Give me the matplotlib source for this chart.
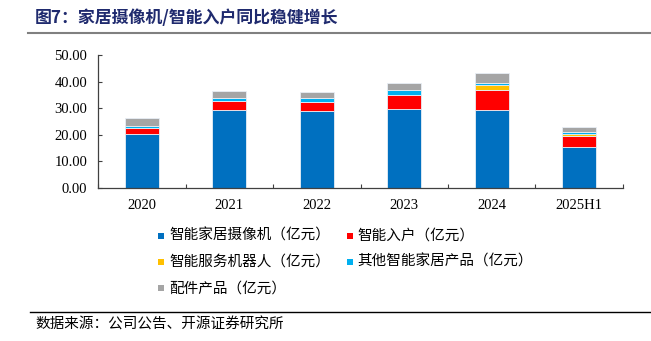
import matplotlib
matplotlib.use("Agg")
import matplotlib.pyplot as plt
from matplotlib.patches import Rectangle
from matplotlib.lines import Line2D
import numpy as np

plt.rcParams['font.family'] = ['Noto Sans CJK SC', 'DejaVu Sans']

categories = ["2020", "2021", "2022", "2023", "2024", "2025H1"]
camera = [20.1, 29.2, 28.8, 29.7, 29.3, 15.2]
entry = [2.6, 3.4, 3.4, 5.2, 7.5, 4.4]
robot = [0.0, 0.0, 0.0, 0.0, 1.9, 0.75]
other_home = [0.6, 1.1, 1.5, 1.9, 0.9, 0.75]
accessories = [3.0, 2.9, 2.3, 2.75, 3.8, 2.0]

series_names = ["智能家居摄像机（亿元）", "智能入户（亿元）", "智能服务机器人（亿元）",
                "其他智能家居产品（亿元）", "配件产品（亿元）"]
series_values = [camera, entry, robot, other_home, accessories]
series_colors = ["#0070C0", "#FF0000", "#FFC000", "#00B0F0", "#A5A5A5"]
yticks = [0, 10, 20, 30, 40, 50]

W, H = 651, 341
fig = plt.figure(figsize=(W / 100, H / 100), dpi=100)

def fx(px):
    return px / W

def fy(py):
    return 1 - py / H

ax = fig.add_axes([fx(98.3), fy(187.7), fx(622.7) - fx(98.3), fy(55.3) - fy(187.7)])
x = np.arange(len(categories))
bottom = np.zeros(len(categories))
for vals, col in zip(series_values, series_colors):
    v = np.array(vals)
    ax.bar(x, v, width=0.39, bottom=bottom, color=col, edgecolor='#e8eef5', linewidth=0.6)
    bottom += v

ax.set_xlim(-0.5, len(categories) - 0.5)
ax.set_ylim(0, 50)
ax.spines['top'].set_visible(False)
ax.spines['right'].set_visible(False)
for s in ['left', 'bottom']:
    ax.spines[s].set_color('#404040')
    ax.spines[s].set_linewidth(0.9)

ax.set_yticks(yticks)
ax.set_yticklabels([f"{v:.2f}" for v in yticks], family=['Liberation Serif'], fontsize=10.5)
ax.tick_params(axis='y', direction='in', length=3, width=0.8, color='#404040', pad=8)

ax.set_xticks(np.arange(-0.5, len(categories), 1.0))
ax.set_xticklabels([])
ax.tick_params(axis='x', which='major', direction='in', length=3, width=0.8, color='#404040')
ax.set_xticks(x, minor=True)
ax.set_xticklabels(categories, minor=True, family=['Liberation Serif'], fontsize=10.5)
ax.tick_params(axis='x', which='minor', length=0, pad=8)

# Title and rule
fig.text(fx(35), fy(18), "图7：家居摄像机/智能入户同比稳健增长", fontsize=12.2, fontweight='bold',
         color='#1f2a6e', va='center', ha='left')
fig.add_artist(Line2D([fx(28), fx(651)], [fy(33), fy(33)], color='#808080', linewidth=1.5))

# Legend (manual, row-wise)
leg_pos = [(158.3, 235.7), (346.7, 235.7), (158.3, 261.7), (346.7, 261.7), (158.3, 288.3)]
for (px, py), name, col in zip(leg_pos, series_names, series_colors):
    fig.add_artist(Rectangle((fx(px), fy(py + 3)), fx(6), 6 / H, facecolor=col, edgecolor='none',
                             transform=fig.transFigure))
    fig.text(fx(px + 11), fy(py), name, fontsize=10.5, va='center', ha='left', color='#000000')

# Source
fig.add_artist(Line2D([fx(30), fx(651)], [fy(311.7), fy(311.7)], color='#000000', linewidth=1.0))
fig.text(fx(35), fy(325), "数据来源：公司公告、开源证券研究所", fontsize=10.5, va='center', ha='left')

fig.savefig("out.png", dpi=100)
